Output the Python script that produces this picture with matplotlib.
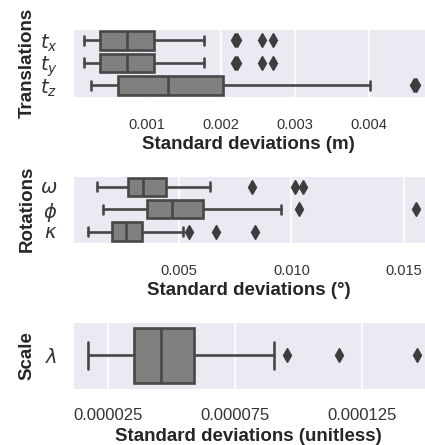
import matplotlib
matplotlib.use("Agg")
import matplotlib.pyplot as plt
import seaborn as sns
from matplotlib.ticker import FormatStrFormatter

# box statistics (whislo, q1, med, q3, whishi)
trans_labels = ["$t_x$", "$t_y$", "$t_z$"]
trans_whislo = [0.00016, 0.00016, 0.000254]
trans_q1 = [0.000375, 0.000375, 0.000614]
trans_med = [0.000743, 0.000743, 0.001295]
trans_q3 = [0.001106, 0.001106, 0.002027]
trans_whishi = [0.001775, 0.001775, 0.004009]
trans_fliers = [[0.00219, 0.00222, 0.002552, 0.002708],
                [0.00219, 0.00222, 0.002552, 0.002708],
                [0.00460, 0.00463]]
trans_ticks = [0.001, 0.002, 0.003, 0.004]

rot_labels = [r"$\omega$", r"$\phi$", r"$\kappa$"]
rot_whislo = [0.001373, 0.001639, 0.000973]
rot_q1 = [0.002722, 0.003566, 0.002012]
rot_med = [0.003415, 0.004703, 0.002633]
rot_q3 = [0.004423, 0.006079, 0.003357]
rot_whishi = [0.006376, 0.009542, 0.005164]
rot_fliers = [[0.008241, 0.010150, 0.010492],
              [0.010328, 0.015523],
              [0.005457, 0.006643, 0.008374]]
rot_ticks = [0.005, 0.010, 0.015]

scale_labels = [r"$\lambda$"]
scale_whislo = [0.0000174]
scale_q1 = [0.0000353]
scale_med = [0.0000460]
scale_q3 = [0.0000589]
scale_whishi = [0.0000904]
scale_fliers = [[0.0000953, 0.000116, 0.0001464]]
scale_ticks = [0.000025, 0.000075, 0.000125]

sns.set_style("darkgrid")
plt.rcParams["font.family"] = ["Liberation Sans", "DejaVu Sans"]
plt.rcParams["mathtext.fontset"] = "dejavusans"

fig = plt.figure(figsize=(4.25, 4.45), dpi=100)

box_face = "#808080"
line_col = "#474747"


def panel(rect, labels, whislo, q1, med, q3, whishi, fliers,
          ticks, fmt, xlim, xlabel, ylabel, tick_size, tick_pad):
    ax = fig.add_axes(rect)
    stats = []
    for i in range(len(labels)):
        stats.append(dict(whislo=whislo[i], q1=q1[i], med=med[i], q3=q3[i],
                          whishi=whishi[i], fliers=fliers[i]))
    ax.bxp(stats, positions=range(len(labels)), orientation="horizontal",
           widths=0.82, capwidths=0.4, patch_artist=True,
           boxprops=dict(facecolor=box_face, edgecolor=line_col, linewidth=1.9),
           medianprops=dict(color=line_col, linewidth=1.9),
           whiskerprops=dict(color=line_col, linewidth=1.9),
           capprops=dict(color=line_col, linewidth=1.9),
           flierprops=dict(marker="d", markerfacecolor="#3d3d3d",
                           markeredgecolor="#3d3d3d", markersize=7))
    ax.set_ylim(len(labels) - 0.5, -0.5)
    ax.set_yticks(range(len(labels)))
    ax.set_yticklabels(labels, fontsize=14, color="#333333")
    ax.set_xlim(*xlim)
    ax.set_xticks(ticks)
    ax.xaxis.set_major_formatter(FormatStrFormatter(fmt))
    ax.tick_params(axis="x", labelsize=tick_size, pad=tick_pad, length=0,
                   labelcolor="#333333")
    ax.tick_params(axis="y", pad=11, length=0)
    ax.grid(False, axis="y")
    ax.grid(True, axis="x", color="white", linewidth=1.2)
    ax.set_xlabel(xlabel, fontsize=13.5, fontweight="bold", labelpad=3.5,
                  color="#262626")
    ax.set_ylabel(ylabel, fontsize=13.5, fontweight="bold", color="#262626")
    ax.yaxis.set_label_coords(-0.105, 0.5)
    return ax


panel([0.171, 0.7827, 0.829, 0.152], trans_labels, trans_whislo, trans_q1,
      trans_med, trans_q3, trans_whishi, trans_fliers, trans_ticks, "%.3f",
      (0.000008, 0.00475), "Standard deviations (m)", "Translations", 10.5, 15)

panel([0.171, 0.4546, 0.829, 0.1506], rot_labels, rot_whislo, rot_q1,
      rot_med, rot_q3, rot_whishi, rot_fliers, rot_ticks, "%.3f",
      (0.00028, 0.015933), "Standard deviations (°)", "Rotations", 10.5, 15)

panel([0.171, 0.1258, 0.829, 0.1512], scale_labels, scale_whislo, scale_q1,
      scale_med, scale_q3, scale_whishi, scale_fliers, scale_ticks, "%.6f",
      (0.0000112, 0.0001497), "Standard deviations (unitless)", "Scale", 12, 14)

fig.savefig("out.png", dpi=100)
